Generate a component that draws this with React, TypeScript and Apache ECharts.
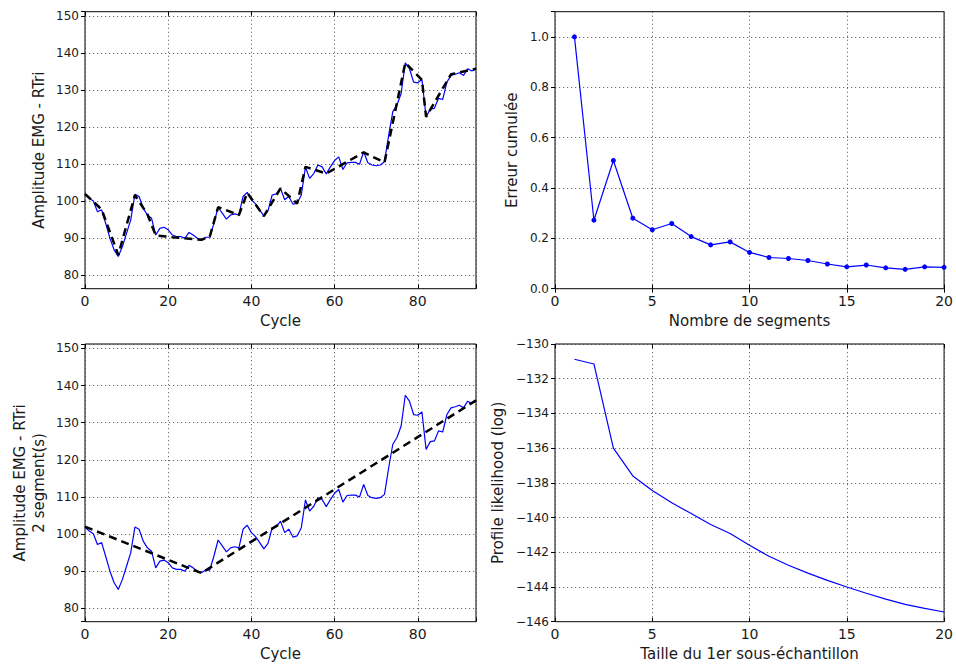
import React, { useEffect, useRef } from 'react';
import * as echarts from 'echarts';

// EMG amplitude per cycle (cycle = index 0..94)
const emg = [
  101.9, 100.8, 100.1, 97.2, 97.7, 93.9, 90.0, 86.9, 85.1, 87.8,
  91.4, 95.0, 101.9, 101.3, 98.1, 96.3, 95.4, 90.9, 92.7, 93.0,
  92.3, 90.9, 90.5, 90.5, 90.0, 91.6, 90.9, 90.0, 89.6, 90.3,
  90.3, 94.1, 98.4, 96.8, 95.2, 96.3, 96.6, 96.3, 101.3, 102.4,
  100.4, 99.3, 97.7, 96.0, 97.5, 101.7, 102.0, 103.5, 100.4, 101.3,
  99.2, 99.5, 101.7, 109.2, 106.2, 107.5, 109.8, 109.3, 107.4, 109.3,
  111.0, 112.0, 108.6, 110.4, 110.5, 110.5, 110.0, 113.4, 110.4, 109.8,
  109.6, 109.8, 110.7, 117.8, 124.2, 126.0, 129.1, 137.4, 135.8, 132.2,
  132.0, 132.9, 122.8, 124.9, 125.1, 127.8, 127.5, 132.2, 134.0, 134.3,
  134.7, 134.0, 135.8, 135.2, 135.8,
];

// Piecewise-linear fit (many segments), top-left
const fitX = [0, 4, 8, 12, 15, 17, 21, 28, 30, 32, 37, 39, 43, 47, 51, 53, 58, 67, 72, 77, 81, 82, 88, 94];
const fitY = [102.0, 97.8, 85.5, 101.7, 96.5, 90.8, 90.3, 89.6, 90.5, 98.4, 96.3, 102.3, 96.0, 103.5, 99.4, 109.3, 107.5, 113.2, 110.5, 137.4, 132.8, 122.8, 134.3, 135.8];

// 2-segment fit, bottom-left
const fit2X = [0, 28, 94];
const fit2Y = [102.0, 89.5, 136.0];

// Cumulative error vs number of segments
const nSegments = [1, 2, 3, 4, 5, 6, 7, 8, 9, 10, 11, 12, 13, 14, 15, 16, 17, 18, 19, 20];
const cumError = [1.0, 0.272, 0.509, 0.28, 0.234, 0.259, 0.207, 0.174, 0.186, 0.144, 0.124, 0.12, 0.112, 0.098, 0.087, 0.094, 0.083, 0.077, 0.087, 0.085];

// Profile likelihood vs size of first sub-sample
const sampleSize = [1, 2, 3, 4, 5, 6, 7, 8, 9, 10, 11, 12, 13, 14, 15, 16, 17, 18, 19, 20];
const likelihood = [-130.88, -131.15, -136.0, -137.6, -138.44, -139.15, -139.77, -140.4, -140.92, -141.6, -142.23, -142.75, -143.2, -143.62, -144.0, -144.36, -144.7, -145.0, -145.23, -145.44];

const FONT = 'DejaVu Sans';
const TXT = '#1a1a1a';

const splitLine = { show: true, lineStyle: { color: '#444', width: 0.8, type: [1.2, 2.8] as any } };

function multipleOf(v: number, step: number) {
  const r = v / step;
  return Math.abs(r - Math.round(r)) < 1e-6;
}

function mkXAxis(g: number, o: any) {
  return {
    type: 'value',
    gridIndex: g,
    min: o.min,
    max: o.max,
    interval: o.interval,
    name: o.name,
    nameLocation: 'middle',
    nameGap: o.nameGap ?? 25,
    nameTextStyle: { fontFamily: FONT, fontSize: 15, color: TXT },
    axisLine: { show: false },
    axisTick: { show: true, inside: true, length: 4, lineStyle: { color: '#000', width: 1 } },
    axisLabel: {
      fontFamily: FONT, fontSize: 14, color: TXT, margin: 5,
      formatter: (v: number) => (multipleOf(v, o.interval) ? String(Math.round(v)) : ''),
    },
    splitLine,
  };
}

function mkXMirror(g: number, o: any) {
  return {
    type: 'value', gridIndex: g, position: 'top', min: o.min, max: o.max, interval: o.interval,
    axisLine: { show: false },
    axisTick: { show: true, inside: true, length: 4, lineStyle: { color: '#000', width: 1 } },
    axisLabel: { show: false },
    splitLine: { show: false },
  };
}

function mkYAxis(g: number, o: any) {
  return {
    type: 'value',
    gridIndex: g,
    min: o.min,
    max: o.max,
    interval: o.interval,
    splitNumber: o.splitNumber,
    name: o.name,
    nameLocation: 'middle',
    nameGap: o.nameGap,
    nameTextStyle: { fontFamily: FONT, fontSize: 15, color: TXT, lineHeight: 19, align: 'center' },
    axisLine: { show: false },
    axisTick: { show: true, inside: false, length: 4, lineStyle: { color: '#000', width: 1 } },
    axisLabel: {
      fontFamily: FONT, fontSize: 12, color: TXT, margin: 6,
      formatter: o.formatter,
    },
    splitLine,
  };
}

function mkYMirror(g: number, o: any) {
  return {
    type: 'value', gridIndex: g, position: 'right', min: o.min, max: o.max, interval: o.interval,
    splitNumber: o.splitNumber,
    axisLine: { show: false },
    axisTick: { show: true, inside: true, length: 4, lineStyle: { color: '#000', width: 1 } },
    axisLabel: { show: false },
    splitLine: { show: false },
  };
}

export default function App() {
  const ref = useRef<HTMLDivElement>(null);

  useEffect(() => {
    if (!ref.current) return;
    const chart = echarts.init(ref.current, undefined, { renderer: 'svg' });

    const gridBase = { show: true, borderColor: '#000', borderWidth: 1, backgroundColor: '#fff' };
    const grids = [
      { left: 85, top: 11.7, width: 391, height: 277 },
      { left: 555, top: 11.7, width: 391.7, height: 277 },
      { left: 85, top: 344, width: 391, height: 277.7 },
      { left: 555, top: 344, width: 391.7, height: 277.7 },
    ].map((g) => ({ ...gridBase, ...g }));

    const emgY = {
      min: 76.4, max: 151.2, splitNumber: 7,
      formatter: (v: number) => (multipleOf(v, 10) ? String(Math.round(v)) : ''),
    };
    const xEmg = { min: 0, max: 94, interval: 20, name: 'Cycle' };
    const xErr = { min: 0, max: 20, interval: 5, name: 'Nombre de segments' };
    const xLik = { min: 0, max: 20, interval: 5, name: 'Taille du 1er sous-échantillon' };
    const yErr = {
      min: 0, max: 1.1, interval: 0.2, name: 'Erreur cumulée', nameGap: 34,
      formatter: (v: number) => (multipleOf(v, 0.2) ? v.toFixed(1) : ''),
    };
    const yLik = {
      min: -146, max: -130, interval: 2, name: 'Profile likelihood (log)', nameGap: 48,
      formatter: (v: number) => String(Math.round(v)).replace('-', '\u2212'),
    };

    const option: any = {
      animation: false,
      backgroundColor: '#fff',
      grid: grids,
      xAxis: [
        mkXAxis(0, xEmg),
        mkXAxis(1, xErr),
        mkXAxis(2, xEmg),
        mkXAxis(3, xLik),
        mkXMirror(0, xEmg),
        mkXMirror(1, xErr),
        mkXMirror(2, xEmg),
        mkXMirror(3, xLik),
      ],
      yAxis: [
        mkYAxis(0, { ...emgY, name: 'Amplitude EMG - RTri', nameGap: 37 }),
        mkYAxis(1, yErr),
        mkYAxis(2, { ...emgY, name: 'Amplitude EMG - RTri\n2 segment(s)', nameGap: 37 }),
        mkYAxis(3, yLik),
        mkYMirror(0, emgY),
        mkYMirror(1, yErr),
        mkYMirror(2, emgY),
        mkYMirror(3, yLik),
      ],
      series: [
        {
          type: 'line', xAxisIndex: 0, yAxisIndex: 0,
          data: emg.map((v, i) => [i, v]),
          showSymbol: false, lineStyle: { color: '#0000ff', width: 1.2 }, z: 2,
        },
        {
          type: 'line', xAxisIndex: 0, yAxisIndex: 0,
          data: fitX.map((x, i) => [x, fitY[i]]),
          showSymbol: false, lineStyle: { color: '#000', width: 2.5, type: [8, 5] }, z: 3,
        },
        {
          type: 'line', xAxisIndex: 1, yAxisIndex: 1,
          data: nSegments.map((x, i) => [x, cumError[i]]),
          symbol: 'circle', symbolSize: 5, showSymbol: true,
          itemStyle: { color: '#0000ff' },
          lineStyle: { color: '#0000ff', width: 1.2 }, z: 2,
        },
        {
          type: 'line', xAxisIndex: 2, yAxisIndex: 2,
          data: emg.map((v, i) => [i, v]),
          showSymbol: false, lineStyle: { color: '#0000ff', width: 1.2 }, z: 2,
        },
        {
          type: 'line', xAxisIndex: 2, yAxisIndex: 2,
          data: fit2X.map((x, i) => [x, fit2Y[i]]),
          showSymbol: false, lineStyle: { color: '#000', width: 2.5, type: [8, 5] }, z: 3,
        },
        {
          type: 'line', xAxisIndex: 3, yAxisIndex: 3,
          data: sampleSize.map((x, i) => [x, likelihood[i]]),
          showSymbol: false, lineStyle: { color: '#0000ff', width: 1.2 }, z: 2,
        },
      ],
    };

    chart.setOption(option);
    return () => chart.dispose();
  }, []);

  return (
    <div
      ref={ref}
      style={{ position: 'fixed', left: 0, top: 0, width: 956, height: 668, background: '#fff' }}
    />
  );
}
